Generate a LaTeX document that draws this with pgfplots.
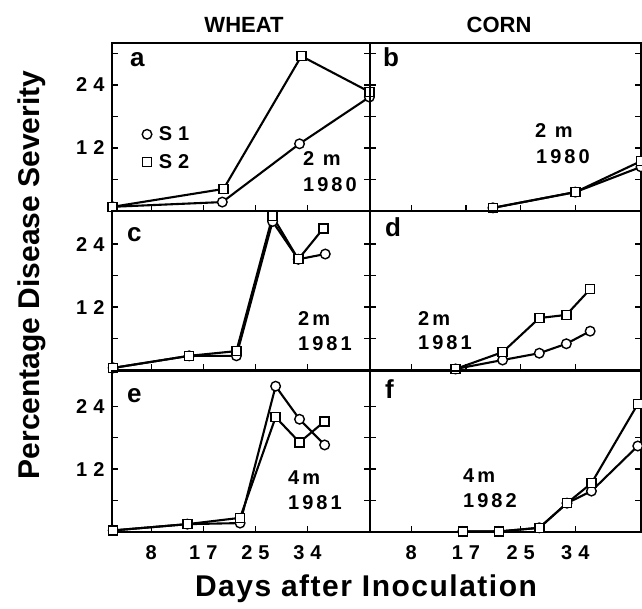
\documentclass[border=0pt]{standalone}
\usepackage{fontspec}
\setmainfont{Liberation Sans}
\newfontfamily\trk[LetterSpace=15]{Liberation Sans}
\newfontfamily\trkx[LetterSpace=5]{Liberation Sans}
\usepackage{pgfplots}
\pgfplotsset{compat=1.18}
\newcommand{\tl}{\bfseries\fontsize{20}{22}\selectfont}
\newcommand{\kk}{\kern6pt}
\newcommand{\ann}{\trk\bfseries\fontsize{20}{22}\selectfont}
\newcommand{\pl}{\bfseries\fontsize{26}{28}\selectfont}
\begin{document}
\begin{tikzpicture}
\useasboundingbox (0pt,0pt) rectangle (642pt,-609pt);
\pgfplotsset{
 panel/.style={scale only axis, clip=false, anchor=north west,
  xmin=2.1, xmax=44.2, ymin=0,
  xtick={8.5,17,25.5,34}, xticklabels={},
  ytick={6,12,18,24,30}, yticklabels={},
  tick align=inside, xtick pos=left, ytick pos=both,
  major tick length=6pt,
  every tick/.style={black, line width=1.2pt},
  axis line style={line width=1.5pt},
  tick label style={font=\tl},
  xticklabel style={yshift=-10pt},
  yticklabel style={xshift=-4pt},
 },
 s1/.style={black, line width=2.1pt, mark=*, mark size=4.8pt, mark options={fill=white, line width=1.4pt}},
 s2/.style={black, line width=2.1pt, mark=square*, mark size=4.5pt, mark options={fill=white, line width=1.4pt}},
}
% ---- a ----
\begin{axis}[panel, at={(112pt,-43pt)}, width=258pt, height=168pt, ymax=32,
  yticklabels={{},{1\kk2},{},{2\kk4},{}},
  legend style={draw=none, fill=none, font=\tl, at={(axis cs:7.0,16.5)}, anchor=north west, inner sep=0pt, row sep=8pt, legend cell align=left},
  legend image code/.code={\draw[#1, only marks] plot coordinates {(0pt,0pt)};}]
\addplot[s1] coordinates {(2.2,0.8) (20.1,1.7) (32.7,12.8) (44.1,21.7)};
\addlegendentry{\hspace{5pt}S\kk1}
\addplot[s2] coordinates {(2.2,0.8) (20.3,4.2) (33.0,29.5) (44.1,22.7)};
\addlegendentry{\hspace{5pt}S\kk2}
\end{axis}
% ---- b ----
\begin{axis}[panel, at={(370pt,-43pt)}, width=271pt, height=168pt, ymax=32]
\addplot[s1] coordinates {(21.2,0.6) (34.0,3.6) (44.2,8.4)};
\addplot[s2] coordinates {(21.2,0.6) (34.0,3.6) (44.2,9.5)};
\end{axis}
% ---- c ----
\begin{axis}[panel, at={(112pt,-211pt)}, width=258pt, height=159pt, ymax=30.3,
  ytick={6,12,18,24}, yticklabels={{},{1\kk2},{},{2\kk4}}]
\addplot[s1] coordinates {(2.3,0.4) (14.7,2.7) (22.4,2.7) (28.3,28.3) (32.5,21.1) (36.9,22.1)};
\addplot[s2] coordinates {(2.3,0.4) (14.7,2.7) (22.4,3.6) (28.3,29.3) (32.5,21.1) (36.6,27.0)};
\end{axis}
% ---- d ----
\begin{axis}[panel, at={(370pt,-211pt)}, width=271pt, height=159pt, ymax=30.3,
  ytick={6,12,18,24}]
\addplot[s1] coordinates {(15.4,0.2) (22.7,1.9) (28.4,3.2) (32.6,5.0) (36.3,7.4)};
\addplot[s2] coordinates {(15.4,0.2) (22.7,3.4) (28.4,9.9) (32.6,10.5) (36.3,15.4)};
\end{axis}
% ---- e ----
\begin{axis}[panel, at={(112pt,-371pt)}, width=258pt, height=161pt, ymax=30.7,
  ytick={6,12,18,24}, yticklabels={{},{1\kk2},{},{2\kk4}},
  xticklabels={{8},{1\kk7},{2\kk5},{3\kk4}}]
\addplot[s1] coordinates {(2.3,0.3) (14.4,1.5) (23.0,1.7) (28.8,27.8) (32.7,21.5) (36.8,16.6)};
\addplot[s2] coordinates {(2.3,0.3) (14.4,1.5) (23.0,2.7) (28.8,21.9) (32.7,17.1) (36.8,21.1)};
\end{axis}
% ---- f ----
\begin{axis}[panel, at={(370pt,-371pt)}, width=271pt, height=161pt, ymax=30.7,
  ytick={6,12,18,24},
  xticklabels={{8},{1\kk7},{2\kk5},{3\kk4}}]
\addplot[s1] coordinates {(16.5,0.1) (22.1,0.1) (28.4,0.8) (32.7,5.5) (36.5,7.8) (43.7,16.4)};
\addplot[s2] coordinates {(16.5,0.1) (22.1,0.1) (28.4,0.8) (32.7,5.5) (36.5,9.3) (43.7,24.4)};
\end{axis}
% ---- texts ----
\node at (244pt,-25pt) {\bfseries\fontsize{22}{24}\selectfont WHEAT};
\node at (499pt,-25pt) {\bfseries\fontsize{22}{24}\selectfont CORN};
\node[rotate=90] at (32pt,-275pt) {\bfseries\fontsize{30}{32}\selectfont Percentage Disease Severity};
\node at (366pt,-589pt) {\trkx\bfseries\fontsize{30}{32}\selectfont Days after Inoculation};
\node[anchor=base west, inner sep=0pt] at (130pt,-67pt) {\pl a};
\node[anchor=base west, inner sep=0pt] at (383pt,-67pt) {\pl b};
\node[anchor=base west, inner sep=0pt] at (127pt,-242pt) {\pl c};
\node[anchor=base west, inner sep=0pt] at (385pt,-237pt) {\pl d};
\node[anchor=base west, inner sep=0pt] at (127pt,-402pt) {\pl e};
\node[anchor=base west, inner sep=0pt] at (385pt,-398pt) {\pl f};
\node[anchor=base west, inner sep=0pt] at (303pt,-165.5pt) {\ann 2 m};
\node[anchor=base west, inner sep=0pt] at (303pt,-191.5pt) {\ann 1980};
\node[anchor=base west, inner sep=0pt] at (535pt,-137.5pt) {\ann 2 m};
\node[anchor=base west, inner sep=0pt] at (536pt,-163.5pt) {\ann 1980};
\node[anchor=base west, inner sep=0pt] at (298pt,-325.5pt) {\ann 2m};
\node[anchor=base west, inner sep=0pt] at (298pt,-350.5pt) {\ann 1981};
\node[anchor=base west, inner sep=0pt] at (418pt,-325.5pt) {\ann 2m};
\node[anchor=base west, inner sep=0pt] at (418pt,-349.5pt) {\ann 1981};
\node[anchor=base west, inner sep=0pt] at (288pt,-484.5pt) {\ann 4m};
\node[anchor=base west, inner sep=0pt] at (288pt,-509.5pt) {\ann 1981};
\node[anchor=base west, inner sep=0pt] at (463pt,-482.5pt) {\ann 4m};
\node[anchor=base west, inner sep=0pt] at (463pt,-507.5pt) {\ann 1982};
\end{tikzpicture}
\end{document}
